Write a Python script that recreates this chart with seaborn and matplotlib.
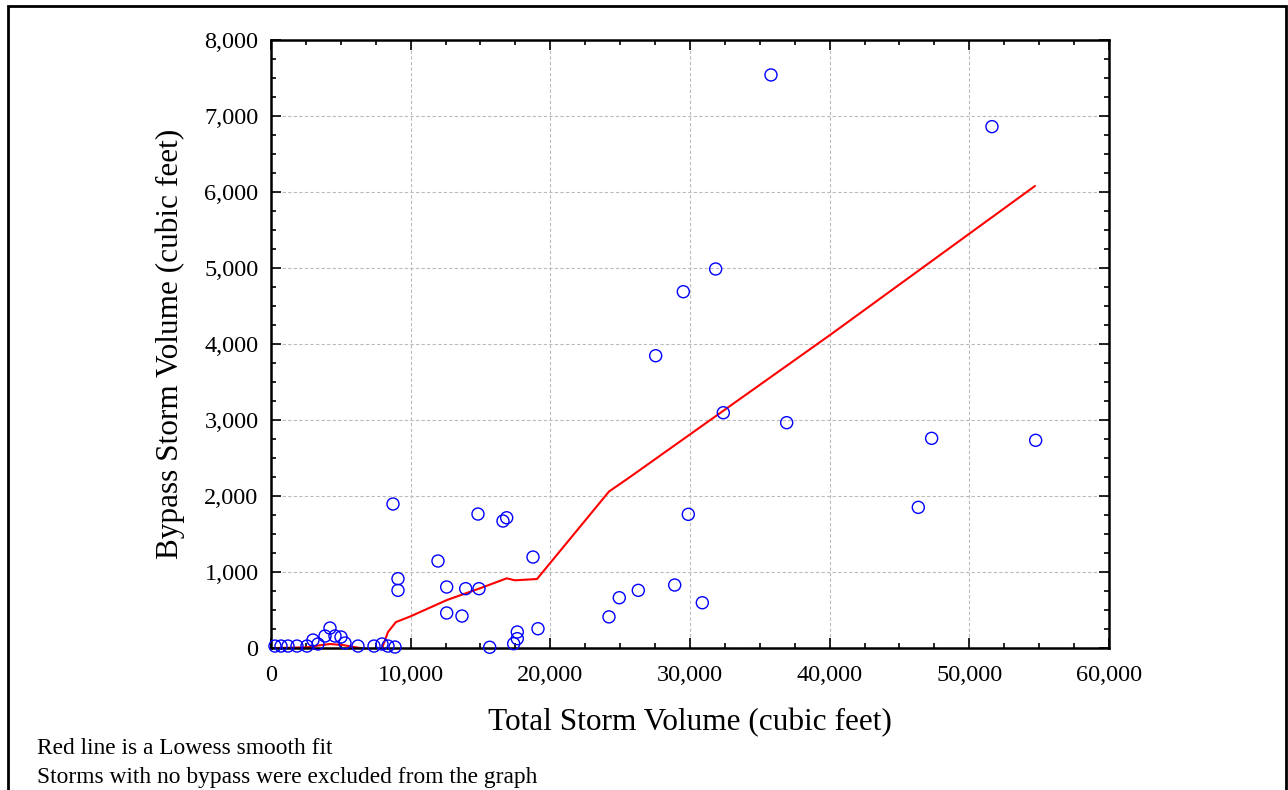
#!/usr/bin/env python3
"""Bypass storm volume vs total storm volume, with a Lowess smooth line."""
import matplotlib
matplotlib.use("Agg")
import matplotlib.pyplot as plt
import matplotlib.patches as mpatches
from matplotlib.ticker import FuncFormatter, MultipleLocator
import numpy as np
import pandas as pd
import seaborn as sns

# Storm volumes (cubic feet)
total_volume = [
    286, 716, 1217, 1862, 2578, 3007, 3365, 3866, 4224, 4582, 5012, 5298,
    6229, 7375, 7947, 8377, 8878,
    8735, 9093, 9093, 11957, 12580, 12580, 13675, 13940, 14821, 14893,
    15659, 16611, 16875, 17377, 17635, 17635, 18759, 19117,
    24200, 24938, 26300, 27544, 28905, 29523, 29881, 30883, 31838, 32387,
    35800, 36923, 46348, 47303, 51623, 54751,
]
bypass_volume = [
    26, 26, 26, 26, 26, 105, 53, 158, 263, 158, 145, 66,
    26, 26, 53, 26, 13,
    1895, 912, 759, 1145, 803, 461, 421, 781, 1763, 781,
    10, 1671, 1714, 57, 211, 123, 1197, 254,
    410, 662, 759, 3846, 829, 4688, 1759, 596, 4987, 3096,
    7540, 2965, 1851, 2759, 6860, 2733,
]

# Lowess smooth curve as drawn on the chart
lowess_x = [290, 2578, 3365, 4224, 5155, 6372, 7232, 7876, 8377, 8950, 9952,
            12602, 14964, 16876, 17470, 19046, 24201, 25704, 40024, 54702]
lowess_y = [0, 9, 33, 53, 39, 0, -26, -40, 211, 342, 414,
            632, 786, 917, 891, 908, 2059, 2250, 4118, 6079]

x_ticks = [0, 10000, 20000, 30000, 40000, 50000, 60000]
y_ticks = [0, 1000, 2000, 3000, 4000, 5000, 6000, 7000, 8000]

storms = pd.DataFrame({"total": total_volume, "bypass": bypass_volume})
smooth = pd.DataFrame({"total": lowess_x, "bypass": lowess_y})

sns.set_style("ticks")
plt.rcParams["font.family"] = ["Liberation Serif", "DejaVu Serif"]
plt.rcParams["text.color"] = "black"
plt.rcParams["axes.labelcolor"] = "black"

fig = plt.figure(figsize=(12.88, 7.90), dpi=100)
ax = fig.add_axes([0.2104, 0.1797, 0.6506, 0.7697])

sns.lineplot(data=smooth, x="total", y="bypass", ax=ax, color="#ff0000",
             linewidth=1.5, sort=False, estimator=None, zorder=2)
sns.scatterplot(data=storms, x="total", y="bypass", ax=ax, s=75,
                facecolor="none", edgecolor="#0000ff", linewidth=1.0,
                zorder=3, clip_on=False)

ax.set_xlim(0, 60000)
ax.set_ylim(0, 8000)
ax.set_xticks(x_ticks)
ax.set_yticks(y_ticks)
ax.xaxis.set_minor_locator(MultipleLocator(2500))
ax.yaxis.set_minor_locator(MultipleLocator(250))
fmt = FuncFormatter(lambda v, _: f"{int(v):,}")
ax.xaxis.set_major_formatter(fmt)
ax.yaxis.set_major_formatter(fmt)

ax.tick_params(which="both", direction="in", top=True, right=True,
               labelsize=17.5, colors="black", width=1.2)
ax.tick_params(which="major", length=7)
ax.tick_params(axis="x", which="major", pad=12)
ax.tick_params(axis="y", which="major", pad=9)
ax.tick_params(which="minor", length=3.5)
for sp in ax.spines.values():
    sp.set_visible(True)
    sp.set_linewidth(1.8)
    sp.set_color("black")

ax.grid(True, which="major", linestyle=(0, (3, 2)), color="#bbbbbb",
        linewidth=0.8)
ax.set_axisbelow(True)

ax.set_xlabel("Total Storm Volume (cubic feet)", fontsize=22.5, labelpad=16)
ax.set_ylabel("Bypass Storm Volume (cubic feet)", fontsize=22.5, labelpad=14)

fig.text(37 / 1288, 1 - 748 / 790, "Red line is a Lowess smooth fit",
         fontsize=16.8, va="center", ha="left")
fig.text(37 / 1288, 1 - 777 / 790,
         "Storms with no bypass were excluded from the graph",
         fontsize=16.8, va="center", ha="left")

# outer frame around the whole graphic
frame = mpatches.Rectangle((8 / 1288, -0.05), 1278 / 1288, 1.05 - 6 / 790,
                           transform=fig.transFigure, fill=False,
                           edgecolor="black", linewidth=2.0, clip_on=False)
fig.patches.append(frame)

fig.savefig("out.png", dpi=100)
